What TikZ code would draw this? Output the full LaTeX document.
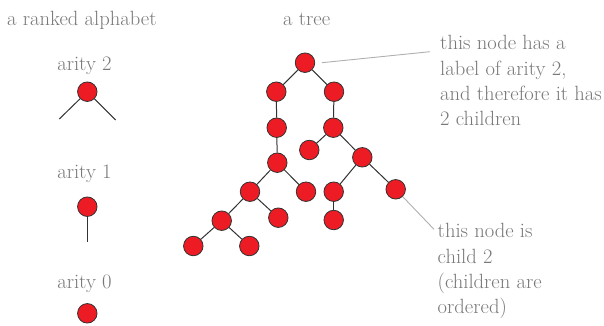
\documentclass[tikz,border=0pt]{standalone}
\usepackage{fontspec}
\definecolor{txtgray}{RGB}{120,120,120}
\definecolor{nodered}{RGB}{237,28,36}
\definecolor{edgegray}{RGB}{50,50,50}
\definecolor{annotgray}{RGB}{175,175,175}
\tikzset{
  vtx/.style={circle, fill=nodered, draw=edgegray, line width=0.8pt, minimum size=19.5pt, inner sep=0pt},
  edge/.style={draw=edgegray, line width=1pt},
  annot/.style={draw=annotgray, line width=0.9pt},
  lbl/.style={text=txtgray, font=\fontsize{20.6}{25.2}\selectfont, inner sep=0pt},
}
\begin{document}
\begin{tikzpicture}[x=1pt,y=-1pt]
\useasboundingbox (0,0) rectangle (604,325);
% titles
\node[lbl, anchor=base west] (t1) at (7,25) {a ranked alphabet};
\node[lbl, anchor=base west] (t2) at (283,25) {a tree};
% ranked alphabet
\node[lbl, anchor=base] (l2) at (84.5,70) {arity 2};
\node[lbl, anchor=base] (l1) at (84.5,178) {arity 1};
\node[lbl, anchor=base] (l0) at (84.5,288) {arity 0};
\coordinate (s2a) at (59.3,119);
\coordinate (s2b) at (115.7,120);
\coordinate (s1a) at (87.3,242.3);
\node[vtx] (ar2) at (87.3,91.7) {};
\node[vtx] (ar1) at (87.3,206.7) {};
\node[vtx] (ar0) at (87.3,313.3) {};
\draw[edge] (ar2) -- (s2a);
\draw[edge] (ar2) -- (s2b);
\draw[edge] (ar1) -- (s1a);
% tree
\node[vtx] (r) at (305,62.7) {};
\node[vtx] (a) at (276.3,91.7) {};
\node[vtx] (b) at (334,91.7) {};
\node[vtx] (a1) at (276.7,127.7) {};
\node[vtx] (b1) at (333.3,127.7) {};
\node[vtx] (b1l) at (309.3,150) {};
\node[vtx] (b1r) at (362.3,157.3) {};
\node[vtx] (a2) at (277.3,162.7) {};
\node[vtx] (a2l) at (250,191.7) {};
\node[vtx] (a2r) at (306,191.7) {};
\node[vtx] (b1rl) at (333.7,191.7) {};
\node[vtx] (b1rr) at (395.7,189.3) {};
\node[vtx] (a2ll) at (221.7,220.7) {};
\node[vtx] (a2lr) at (278.3,217.7) {};
\node[vtx] (b1rlc) at (333.7,220) {};
\node[vtx] (a2lll) at (193.3,246) {};
\node[vtx] (a2llr) at (249.3,246) {};
\draw[edge] (r) -- (a);
\draw[edge] (r) -- (b);
\draw[edge] (a) -- (a1);
\draw[edge] (b) -- (b1);
\draw[edge] (b1) -- (b1l);
\draw[edge] (b1) -- (b1r);
\draw[edge] (a1) -- (a2);
\draw[edge] (a2) -- (a2l);
\draw[edge] (a2) -- (a2r);
\draw[edge] (b1r) -- (b1rl);
\draw[edge] (b1r) -- (b1rr);
\draw[edge] (a2l) -- (a2ll);
\draw[edge] (a2l) -- (a2lr);
\draw[edge] (b1rl) -- (b1rlc);
\draw[edge] (a2ll) -- (a2lll);
\draw[edge] (a2ll) -- (a2llr);
% annotations (base anchor = baseline of last line)
\node[lbl, anchor=base west, align=left] (n1) at (440,125.5) {this node has a\\label of arity 2,\\and therefore it has\\2 children};
\node[lbl, anchor=base west, align=left] (n2) at (437.5,313.5) {this node is\\child 2\\(children are\\ordered)};
\coordinate (n1end) at (430,51.7);
\coordinate (n2end) at (434,229.3);
\draw[annot] ([xshift=6.7pt]r.east) -- (n1end);
\draw[annot] (b1rr) -- (n2end);
\end{tikzpicture}
\end{document}
